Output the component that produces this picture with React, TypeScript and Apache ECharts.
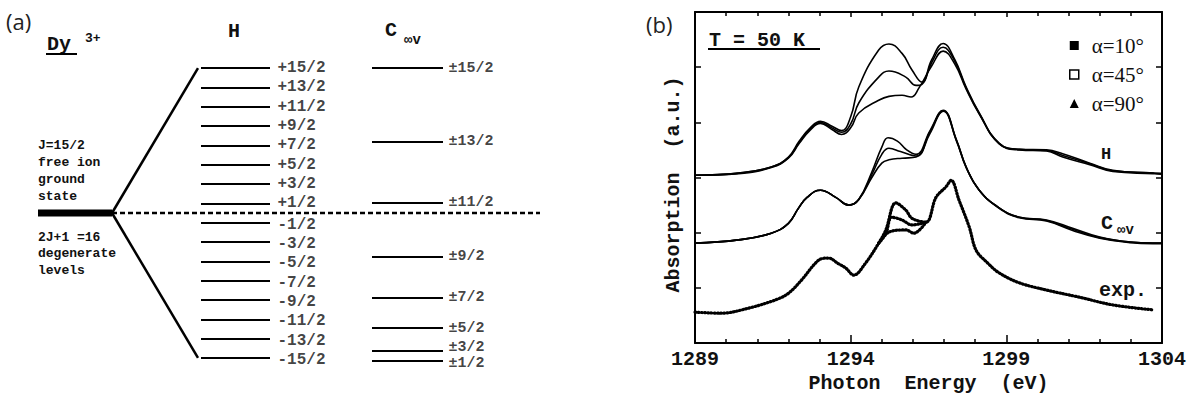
import React, { useEffect, useRef } from "react";
import * as echarts from "echarts";

// ---------- Panel (a): energy levels ----------
const GROUND = 0;
const H_LEVELS = [7.5, 6.5, 5.5, 4.5, 3.5, 2.5, 1.5, 0.5, -0.5, -1.5, -2.5, -3.5, -4.5, -5.5, -6.5, -7.5];
const H_LABELS = ["+15/2", "+13/2", "+11/2", "+9/2", "+7/2", "+5/2", "+3/2", "+1/2", "-1/2", "-3/2", "-5/2", "-7/2", "-9/2", "-11/2", "-13/2", "-15/2"];
const C_LEVELS = [7.5, 3.69, 0.52, -2.26, -4.38, -5.95, -7.12, -7.64];
const C_LABELS = ["±15/2", "±13/2", "±11/2", "±9/2", "±7/2", "±5/2", "±3/2", "±1/2"];
const FREE_ION_TEXT = ["J=15/2", "free ion", "ground", "state"];
const DEGEN_TEXT = ["2J+1 =16", "degenerate", "levels"];

// ---------- Panel (b): spectra (photon energy eV, absorption a.u.) ----------
const X0 = 1289;
const X_TICKS_LABEL_STEP = 5;
const H_10 = [
  [1289.0, 3.04], [1290.4, 3.08], [1291.45, 3.19], [1292.0, 3.37], [1292.35, 3.66], [1292.7, 3.9],
  [1293.03, 4.02], [1293.4, 3.93], [1293.71, 3.85], [1294.0, 4.1], [1294.26, 4.64], [1294.9, 5.31],
  [1295.23, 5.42], [1295.65, 5.25], [1295.97, 4.95], [1296.29, 4.73], [1296.6, 5.13], [1296.97, 5.43],
  [1297.35, 5.13], [1297.71, 4.64], [1298.13, 4.17], [1298.77, 3.62], [1299.42, 3.51], [1300.29, 3.5],
  [1300.81, 3.43], [1301.68, 3.26], [1302.42, 3.13], [1303.71, 3.08], [1304.0, 3.07],
];
const H_45 = [
  [1289.0, 3.04], [1290.4, 3.08], [1291.45, 3.19], [1292.0, 3.36], [1292.35, 3.64], [1292.7, 3.88],
  [1293.03, 4.0], [1293.4, 3.9], [1293.71, 3.82], [1294.0, 3.97], [1294.26, 4.35], [1294.9, 4.82],
  [1295.23, 4.93], [1295.77, 4.82], [1296.1, 4.67], [1296.29, 4.69], [1296.6, 5.08], [1296.97, 5.36],
  [1297.35, 5.1], [1297.71, 4.62], [1298.13, 4.16], [1298.77, 3.62], [1299.42, 3.51], [1300.29, 3.49],
  [1300.81, 3.4], [1301.68, 3.25], [1302.42, 3.12], [1303.71, 3.08], [1304.0, 3.07],
];
const H_90 = [
  [1289.0, 3.04], [1290.4, 3.07], [1291.45, 3.18], [1292.0, 3.35], [1292.35, 3.62], [1292.7, 3.86],
  [1293.03, 3.98], [1293.4, 3.87], [1293.71, 3.78], [1294.0, 3.9], [1294.26, 4.17], [1294.9, 4.4],
  [1295.23, 4.47], [1295.65, 4.49], [1295.94, 4.46], [1296.19, 4.62], [1296.6, 5.02], [1296.97, 5.29],
  [1297.35, 5.05], [1297.71, 4.6], [1298.13, 4.15], [1298.77, 3.61], [1299.42, 3.5], [1300.29, 3.48],
  [1300.81, 3.37], [1301.68, 3.23], [1302.42, 3.11], [1303.71, 3.07], [1304.0, 3.06],
];
const C_10 = [
  [1289.0, 1.81], [1290.39, 1.87], [1291.45, 1.99], [1292.0, 2.17], [1292.32, 2.44], [1292.6, 2.64],
  [1293.03, 2.77], [1293.52, 2.64], [1293.94, 2.5], [1294.26, 2.6], [1294.68, 3.1], [1295.0, 3.55],
  [1295.2, 3.72], [1295.5, 3.66], [1295.8, 3.5], [1296.1, 3.42], [1296.55, 3.85], [1296.97, 4.22],
  [1297.4, 3.68], [1297.71, 3.19], [1298.13, 2.77], [1298.77, 2.45], [1299.42, 2.28], [1300.29, 2.23],
  [1301.13, 2.08], [1302.0, 1.92], [1302.97, 1.83], [1303.71, 1.81], [1304.0, 1.81],
];
const C_45 = [
  [1289.0, 1.81], [1290.39, 1.87], [1291.45, 1.99], [1292.0, 2.17], [1292.32, 2.44], [1292.6, 2.64],
  [1293.03, 2.77], [1293.52, 2.64], [1293.94, 2.5], [1294.26, 2.6], [1294.68, 3.05], [1295.0, 3.42],
  [1295.23, 3.53], [1295.6, 3.47], [1296.1, 3.39], [1296.55, 3.83], [1296.97, 4.21],
  [1297.4, 3.67], [1297.71, 3.19], [1298.13, 2.77], [1298.77, 2.45], [1299.42, 2.28], [1300.29, 2.22],
  [1301.13, 2.06], [1302.0, 1.91], [1302.97, 1.83], [1303.71, 1.81], [1304.0, 1.81],
];
const C_90 = [
  [1289.0, 1.81], [1290.39, 1.87], [1291.45, 1.99], [1292.0, 2.17], [1292.32, 2.44], [1292.6, 2.64],
  [1293.03, 2.77], [1293.52, 2.64], [1293.94, 2.5], [1294.26, 2.6], [1294.68, 3.0], [1295.0, 3.26],
  [1295.23, 3.32], [1295.65, 3.35], [1296.1, 3.37], [1296.55, 3.8], [1296.97, 4.2],
  [1297.4, 3.66], [1297.71, 3.18], [1298.13, 2.77], [1298.77, 2.44], [1299.42, 2.27], [1300.29, 2.21],
  [1301.13, 2.04], [1302.0, 1.9], [1302.97, 1.82], [1303.71, 1.8], [1304.0, 1.8],
];
const EXP_10 = [
  [1289.0, 0.56], [1289.84, 0.54], [1290.71, 0.63], [1291.58, 0.78], [1292.0, 0.9], [1292.42, 1.14],
  [1292.97, 1.5], [1293.29, 1.54], [1293.6, 1.44], [1293.84, 1.36], [1294.1, 1.23], [1294.48, 1.45],
  [1294.9, 1.81], [1295.13, 2.05], [1295.45, 2.54], [1295.77, 2.41], [1295.97, 2.26], [1296.42, 2.19],
  [1296.74, 2.64], [1297.06, 2.83], [1297.23, 2.95], [1297.48, 2.59], [1297.81, 2.1], [1298.03, 1.68],
  [1298.4, 1.45], [1298.77, 1.27], [1299.42, 1.09], [1300.29, 0.96], [1301.35, 0.83], [1302.42, 0.69],
  [1303.71, 0.6],
];
const EXP_45 = [[1294.9, 1.81], [1295.13, 1.98], [1295.32, 2.28], [1295.65, 2.23], [1295.97, 2.14], [1296.42, 2.19]];
const EXP_90 = [[1294.9, 1.81], [1295.23, 2.01], [1295.77, 2.05], [1296.03, 1.99], [1296.42, 2.19]];
const LEGEND_NAMES = ["α=10°", "α=45°", "α=90°"];

// ---------- layout (pixels) ----------
const A_PX_PER_UNIT = 19.33;
const A_ZERO_Y = 213;
const A_YMAX = 10;
const A_YMIN = -9;
const GX0 = 38, GX1 = 112, FAN_X = 198, DASH_END = 540;
const HX0 = 201, HX1 = 270, CX0 = 372, CX1 = 443;
const C_LABEL_NUDGE: Record<string, number> = { "±11/2": 0, "±3/2": -3, "±1/2": 3 };
const MONO = "Liberation Mono";

export default function App() {
  const ref = useRef<HTMLDivElement>(null);
  useEffect(() => {
    if (!ref.current) return;
    const chart = echarts.init(ref.current, null, { renderer: "svg" });
    const shift = (arr: number[][]) => arr.map(([e, v]) => [e - X0, v]);
    const black = "#000";
    const curve = (name: string, data: number[][], w = 1.6) => ({
      type: "line", name, xAxisIndex: 1, yAxisIndex: 1, data: shift(data), smooth: 0.45,
      showSymbol: false, symbol: "none", lineStyle: { color: black, width: w }, itemStyle: { color: black }, silent: true,
    });
    const expCurve = (name: string, data: number[][]) => ({
      type: "line", name, xAxisIndex: 1, yAxisIndex: 1, data: shift(data), smooth: 0.35,
      showSymbol: false, symbol: "none",
      lineStyle: { color: black, width: 3.2, type: [0.8, 2.4], cap: "round" }, itemStyle: { color: black }, silent: true,
    });
    const aLine = (data: number[][], width: number, type: any = "solid") => ({
      type: "line", xAxisIndex: 0, yAxisIndex: 0, data, symbol: "none", silent: true,
      lineStyle: { color: black, width, type }, z: 3,
    });
    const hTop = Math.max(...H_LEVELS), hBot = Math.min(...H_LEVELS);
    const labelStyle = { fontFamily: MONO, fontWeight: "bold", fontSize: 16, color: "#111" };
    const txt = (text: string, x: number, y: number, size: number, extra: any = {}) => ({
      type: "text", x, y, silent: true,
      style: { text, font: `bold ${size}px "${MONO}"`, fill: "#111", verticalAlign: "middle", align: "left", ...extra },
    });
    const ln = (x1: number, y1: number, x2: number, y2: number, w = 2) => ({
      type: "line", silent: true, shape: { x1, y1, x2, y2 }, style: { stroke: black, lineWidth: w },
    });

    const option: any = {
      animation: false,
      backgroundColor: "#fff",
      grid: [
        { left: 0, width: 560, top: A_ZERO_Y - A_YMAX * A_PX_PER_UNIT, height: (A_YMAX - A_YMIN) * A_PX_PER_UNIT },
        { left: 695, right: 37, top: 12, bottom: 57 },
      ],
      xAxis: [
        { gridIndex: 0, type: "value", min: 0, max: 560, show: false },
        {
          gridIndex: 1, type: "value", min: 0, max: 15, interval: X_TICKS_LABEL_STEP, position: "bottom",
          axisLine: { show: true, onZero: false, lineStyle: { color: black, width: 2 } },
          axisTick: { show: true, inside: true, length: 8, lineStyle: { color: black, width: 1.5 } },
          minorTick: { show: true, splitNumber: 5, length: 4, lineStyle: { color: black, width: 1.5 } },
          axisLabel: { formatter: (v: number) => String(v + X0), fontFamily: MONO, fontWeight: "bold", fontSize: 20, color: "#111", margin: 6 },
          splitLine: { show: false }, minorSplitLine: { show: false },
          name: "Photon  Energy  (eV)", nameLocation: "middle", nameGap: 30,
          nameTextStyle: { fontFamily: MONO, fontWeight: "bold", fontSize: 20, color: "#111" },
        },
        {
          gridIndex: 1, type: "value", min: 0, max: 15, interval: X_TICKS_LABEL_STEP, position: "top",
          axisLine: { show: true, onZero: false, lineStyle: { color: black, width: 2 } },
          axisTick: { show: true, inside: true, length: 5, lineStyle: { color: black, width: 1.5 } },
          minorTick: { show: true, splitNumber: 5, length: 4, lineStyle: { color: black, width: 1.5 } },
          axisLabel: { show: false }, splitLine: { show: false },
        },
      ],
      yAxis: [
        { gridIndex: 0, type: "value", min: A_YMIN, max: A_YMAX, show: false },
        {
          gridIndex: 1, type: "value", min: 0, max: 6, interval: 1, position: "left",
          axisLine: { show: true, onZero: false, lineStyle: { color: black, width: 2 } },
          axisTick: { show: true, inside: true, length: 6, lineStyle: { color: black, width: 1.5 } },
          axisLabel: { show: false }, splitLine: { show: false },
          name: "Absorption  (a.u.)", nameLocation: "middle", nameGap: 12,
          nameTextStyle: { fontFamily: MONO, fontWeight: "bold", fontSize: 20, color: "#111", padding: [0, 14, 0, 0] },
        },
        {
          gridIndex: 1, type: "value", min: 0, max: 6, interval: 1, position: "right",
          axisLine: { show: true, onZero: false, lineStyle: { color: black, width: 2 } },
          axisTick: { show: true, inside: true, length: 6, lineStyle: { color: black, width: 1.5 } },
          axisLabel: { show: false }, splitLine: { show: false },
        },
      ],
      legend: {
        orient: "vertical", left: 1064, top: 30, itemWidth: 9, itemHeight: 9, itemGap: 8,
        textStyle: { fontFamily: "Liberation Serif", fontSize: 21, color: "#111", padding: [0, 0, 0, 8] },
        selectedMode: false,
        data: [
          { name: LEGEND_NAMES[0], icon: "rect", itemStyle: { color: black } },
          { name: LEGEND_NAMES[1], icon: "rect", itemStyle: { color: "#fff", borderColor: black, borderWidth: 1.5 } },
          { name: LEGEND_NAMES[2], icon: "triangle", itemStyle: { color: black } },
        ],
      },
      series: [
        // panel (a)
        aLine([[GX0, GROUND], [GX1, GROUND]], 7),
        aLine([[GX1, GROUND], [FAN_X, hTop]], 2.5),
        aLine([[GX1, GROUND], [FAN_X, hBot]], 2.5),
        aLine([[GX1, GROUND], [DASH_END, GROUND]], 2.5, [5, 3]),
        {
          type: "lines", coordinateSystem: "cartesian2d", xAxisIndex: 0, yAxisIndex: 0, silent: true,
          data: H_LEVELS.map((e) => ({ coords: [[HX0, e], [HX1, e]] })),
          lineStyle: { color: black, width: 2, opacity: 1 },
        },
        {
          type: "lines", coordinateSystem: "cartesian2d", xAxisIndex: 0, yAxisIndex: 0, silent: true,
          data: C_LEVELS.map((e) => ({ coords: [[CX0, e], [CX1, e]] })),
          lineStyle: { color: black, width: 2, opacity: 1 },
        },
        {
          type: "scatter", xAxisIndex: 0, yAxisIndex: 0, symbolSize: 1, silent: true,
          itemStyle: { color: "rgba(0,0,0,0)" },
          data: H_LEVELS.map((e, i) => ({
            value: [HX1, e], name: H_LABELS[i],
            label: { offset: [0, e < 0 ? 2 : 0] },
          })),
          label: { show: true, position: "right", distance: 7, formatter: "{b}", ...labelStyle },
        },
        {
          type: "scatter", xAxisIndex: 0, yAxisIndex: 0, symbolSize: 1, silent: true,
          itemStyle: { color: "rgba(0,0,0,0)" },
          data: C_LEVELS.map((e, i) => ({
            value: [CX1, e], name: C_LABELS[i],
            label: { offset: [0, C_LABEL_NUDGE[C_LABELS[i]] || 0] },
          })),
          label: { show: true, position: "right", distance: 5, formatter: "{b}", ...labelStyle, fontSize: 15 },
        },
        // panel (b)
        curve(LEGEND_NAMES[0], H_10), curve(LEGEND_NAMES[1], H_45), curve(LEGEND_NAMES[2], H_90),
        curve(LEGEND_NAMES[0], C_10), curve(LEGEND_NAMES[1], C_45), curve(LEGEND_NAMES[2], C_90),
        expCurve(LEGEND_NAMES[0], EXP_10), expCurve(LEGEND_NAMES[1], EXP_45), expCurve(LEGEND_NAMES[2], EXP_90),
      ],
      graphic: [
        { type: "text", x: 6, y: 21, silent: true, style: { text: "(a)", font: '22px "Open Sans"', fill: "#222", verticalAlign: "middle" } },
        { type: "text", x: 646, y: 24, silent: true, style: { text: "(b)", font: '22px "Open Sans"', fill: "#222", verticalAlign: "middle" } },
        txt("Dy", 47, 44, 20),
        ln(46, 54, 77, 54, 2),
        txt("3+", 85, 38, 13),
        txt("H", 228, 31, 20),
        txt("C", 385, 30, 20),
        txt("∞v", 404, 40, 14),
        ...FREE_ION_TEXT.map((t, i) => txt(t, 38, 145 + i * 17, 13)),
        ...DEGEN_TEXT.map((t, i) => txt(t, 38, 237 + i * 16.5, 13)),
        txt("T = 50 K", 709, 40, 20),
        ln(708, 49, 820, 49, 2),
        txt("H", 1101, 154, 17),
        txt("C", 1101, 223, 20),
        txt("∞v", 1117, 230, 14),
        txt("exp.", 1099, 290, 20),
      ],
    };
    chart.setOption(option);
    return () => chart.dispose();
  }, []);
  return <div ref={ref} style={{ position: "absolute", left: 0, top: 0, width: 1199, height: 400 }} />;
}
